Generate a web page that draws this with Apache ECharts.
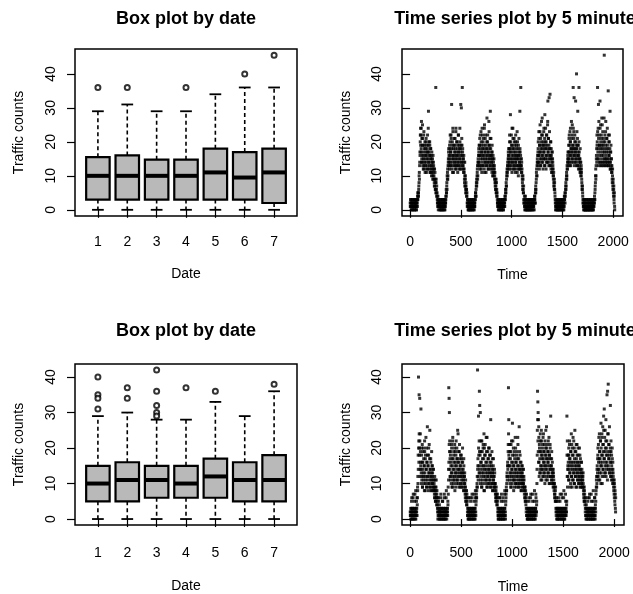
<!DOCTYPE html>
<html>
<head>
<meta charset="utf-8">
<title>Traffic counts</title>
<script src="https://cdn.jsdelivr.net/npm/echarts@6/dist/echarts.min.js"></script>
<style>
html, body { margin: 0; padding: 0; background: #fff; }
#container { width: 633px; height: 594px; }
</style>
</head>
<body>
<div id="container"></div>
<script>
var dom = document.getElementById("container");
var myChart = echarts.init(dom);

// ---- axis ticks ----
var dates = [1, 2, 3, 4, 5, 6, 7];
var countTicks = [0, 10, 20, 30, 40];
var timeTicks = [0, 500, 1000, 1500, 2000];

// ---- upper box plot ----
var topLow = [0, 0, 0, 0, 0, 0, 0];
var topQ1 = [3, 3, 3, 3, 3, 3, 2];
var topMedian = [10, 10, 10, 10, 11, 9.5, 11];
var topQ3 = [15.5, 16, 14.75, 14.75, 18, 17, 18];
var topHigh = [29, 31, 29, 29, 34, 36, 36];
var topOutDate = [1, 2, 4, 6, 7];
var topOutValue = [36, 36, 36, 40, 45.5];

// ---- lower box plot ----
var bottomLow = [0, 0, 0, 0, 0, 0, 0];
var bottomQ1 = [5, 5, 6, 6, 6, 5, 5];
var bottomMedian = [10, 11, 11, 10, 12, 11, 11];
var bottomQ3 = [15, 16, 15, 15, 17, 16, 18];
var bottomHigh = [29, 30, 28, 28, 33, 29, 36];
var bottomOutDate = [1, 1, 1, 1, 2, 2, 3, 3, 3, 3, 3, 4, 5, 7];
var bottomOutValue = [40, 35, 34, 31, 37, 34, 42, 36, 32, 30, 29, 37, 36, 38];

// ---- upper time series: per day, values at 5-min points 1,4,7,... (a) and 2,5,8,... (b) ----
var topDay1 = [2,1,3,2,0,1,2,3,1,0,2,1,1,3,2,0,1,2,1,3,0,2,1,2,4,3,5,
  4,6,8,11,13,17,20,24,
  22,18,26,15,19,14,21,17,12,16,23,13,19,15,11,18,14,20,16,12,17,13,22,15,19,29,14,17,12,20,16,11,18,13,15,10,17,12,14,9,16,11,13,
  10,8,12,7,9,6,36,8,5,7,4, 3,2,4,1,2,3,1];
var topDay2 = [1,2,0,3,1,2,1,0,2,3,1,2,0,1,3,2,1,2,0,1,2,
  3,4,5,7,6,9,12,10,14,17,13,
  15,12,18,20,14,17,22,13,31,16,19,11,24,15,18,13,21,16,14,19,12,17,23,15,13,20,16,18,11,14,22,17,13,19,15,24,12,18,31,16,30,14,19,36,17,13,15,11,16,
  12,9,14,7,10,6,8,5,6,4, 2,3,1,2,0];
var topDay3 = [2,1,0,3,2,1,2,0,1,3,2,1,0,2,1,3,1,2,0,2,1,3,4,
  5,4,7,9,8,11,13,10,15,14,18,16,
  14,19,12,22,16,13,20,17,11,24,15,18,13,21,16,19,12,25,14,17,22,15,11,18,13,27,16,20,14,17,12,19,23,15,18,13,29,16,21,14,17,12,19,15,10,16,13,11,15,12,
  9,11,7,8,6,9,5,6,4, 3,2];
var topDay4 = [1,2,3,0,2,1,2,1,3,0,2,1,2,0,1,3,2,1,0,2,1,3,2,4,3,
  5,6,8,7,10,12,11,14,13,17,15,
  16,12,20,14,18,28,13,17,22,15,11,19,14,24,16,12,18,21,13,15,17,11,20,14,16,19,12,23,15,13,18,10,16,21,14,12,29,17,13,36,15,11,14,
  12,9,7,10,6,5, 3,2,4,1,2,0,3,1,2,1,0];
var topDay5 = [2,0,1,3,2,1,0,2,3,1,2,0,1,2,3,1,0,2,1,2,3,1,2,0,3,4,2,
  5,7,6,9,12,10,14,16,13,
  18,14,21,16,12,19,23,15,17,13,20,26,14,18,22,16,12,19,15,24,17,13,28,20,15,18,12,22,16,19,14,25,32,17,21,13,33,18,15,34,16,20,13,18,11,15,17,12,14,10,
  9,11,7,6,8,5, 3,1,2,0];
var topDay6 = [1,2,0,3,1,2,2,0,1,3,2,1,0,2,1,3,2,0,1,2,1,3,0,2,1,2,4,3,5,
  4,6,8,7,10,9,13,12,15,17,14,
  19,15,22,17,13,20,24,16,18,14,21,17,25,15,19,36,18,23,33,16,20,14,17,32,19,15,40,18,13,21,29,16,19,14,36,17,12,15,18,11,14,10,12,
  9,7,6,5, 3,2,1,0,2,3,1,2,0];
var topDay7 = [1,0,2,1,3,0,1,2,0,1,2,3,1,0,2,1,0,3,1,2,0,1,2,1,0,3,2,1,2,4,3,
  6,8,12,10,15,18,22,
  20,36,17,24,31,15,22,19,14,32,18,25,13,21,16,27,19,14,23,17,20,13,18,45.5,15,22,14,19,26,13,17,21,15,24,14,18,35,13,20,16,22,14,29,17,12,19,15,11,
  13,9,10,7,8,5,6,3,4,1];

var topDay1b = [1,3,2,0,2,1,3,1,2,0,1,2,3,1,0,2,1,3,2,1,0,2,3,1,3,5,4,
  5,7,10,9,14,16,22,19,
  17,24,14,21,16,25,13,19,15,22,12,18,14,20,17,13,16,21,11,19,15,18,12,17,24,14,20,16,13,19,11,15,18,12,16,14,11,13,15,10,12,14,9,
  12,7,9,11,6,8,5,9,6,4,5, 2,1,3,0,2,1,2];
var topDay2b = [2,0,1,2,3,1,0,2,1,3,2,0,1,2,1,3,0,2,1,3,2,
  4,6,5,8,10,11,9,13,15,18,16,
  14,19,16,22,13,17,21,15,18,12,20,14,23,16,11,19,15,17,13,21,18,14,24,12,16,20,15,13,19,17,22,14,16,12,18,20,15,13,17,19,14,21,12,16,18,13,15,12,14,
  11,8,10,7,9,5,7,6,4,5, 1,2,3,0,1];
var topDay3b = [1,2,0,2,3,1,0,1,2,3,1,0,2,1,2,3,0,1,2,1,2,3,5,
  4,6,8,7,10,12,9,14,13,16,17,19,
  16,21,13,18,15,23,12,19,17,14,22,16,20,13,18,15,24,11,17,21,14,19,16,13,20,18,15,22,12,17,14,26,16,19,13,21,15,18,12,16,14,11,17,13,15,10,14,12,11,13,
  10,8,9,6,7,5,8,4,5, 2,1];
var topDay4b = [2,0,1,3,1,2,0,2,1,3,1,2,0,1,2,3,1,0,2,1,3,2,1,3,4,
  6,5,7,9,11,10,13,12,15,16,18,
  14,18,22,13,17,20,15,12,19,16,24,14,18,21,13,17,15,20,12,19,16,14,22,13,18,15,17,11,20,16,13,19,15,12,17,14,18,13,16,12,15,13,11,
  10,8,6,9,5,7, 2,3,1,0,2,4,1,3,0,2,1];
var topDay5b = [1,3,0,2,1,2,3,0,1,2,0,3,1,2,1,0,2,3,1,2,0,1,3,2,4,3,2,
  6,5,8,11,10,13,15,14,17,
  20,16,23,14,19,17,25,13,21,18,15,22,16,27,19,14,20,17,23,15,18,21,13,19,24,16,20,14,22,18,15,26,17,21,14,19,16,23,13,18,15,20,12,16,14,17,11,15,13,12,
  10,8,7,9,6,4, 2,0,3,1];
var topDay6b = [2,1,3,0,2,1,0,3,2,1,0,2,1,3,0,1,2,3,1,0,2,1,3,2,0,1,3,4,2,
  5,7,6,9,11,10,12,14,16,13,15,
  17,21,14,19,23,16,20,13,18,26,15,22,17,19,14,24,16,21,18,13,22,15,17,20,14,18,16,23,13,19,15,17,12,16,20,13,15,11,14,12,10,13,11,
  8,6,7,4, 2,1,3,0,1,2,0,3,1];
var topDay7b = [0,2,1,3,1,0,2,1,3,0,1,2,0,2,1,3,1,0,2,1,3,2,0,1,2,0,1,3,2,3,5,
  7,10,9,13,16,14,19,
  15,23,18,13,21,26,16,19,14,24,17,20,13,22,15,18,25,14,19,16,21,13,27,17,15,20,14,23,16,18,13,21,15,19,14,17,22,13,16,20,15,18,12,14,17,13,15,12,
  11,8,12,6,9,4,7,2,5,0];

// ---- lower time series ----
var bottomDay1 = [2,1,3,0,2,6,1,3,2,0,7,1,2,3,5,1,0,2,8,3,1,2,6,4,
  9,12,18,40,22,35,20,34,14,24,16,
  31,13,20,11,16,9,14,19,12,17,10,15,22,13,8,18,11,14,20,9,16,26,12,15,10,18,13,21,9,25,14,11,17,8,12,19,10,15,13,9,11,14,8,
  10,7,12,6,9,5,8,11,6,7,4, 3,6,1,2,5,0,2];
var bottomDay2 = [1,3,0,2,7,1,2,3,0,1,5,2,1,3,0,2,6,1,2,0,3,1,8,2,1,3,2,5,
  9,14,37,34,30,22,17,
  12,19,15,10,21,13,17,9,23,14,11,18,16,12,20,8,15,19,13,22,10,17,14,11,25,16,12,19,9,14,21,13,17,10,15,12,18,9,16,13,20,11,14,8,17,12,10,13,
  9,6,11,7,5,8,4,6, 2,1,3,0,2];
var bottomDay3 = [2,0,3,1,6,2,1,3,0,2,7,1,3,2,0,1,5,2,3,1,0,8,2,
  4,7,6,9,12,42,15,11,29,18,13,36,
  32,14,30,11,19,16,9,22,13,17,10,20,15,12,24,8,18,14,21,11,16,13,19,9,23,15,12,17,10,20,14,11,18,13,16,9,28,12,15,10,19,13,8,14,11,17,9,12,10,13,
  8,10,6,7,9,5,6,4,7, 2,1];
var bottomDay4 = [1,3,0,2,1,6,2,0,3,1,7,2,1,0,3,2,5,1,2,0,3,8,1,2,4,
  6,9,8,12,11,15,14,19,37,28,
  17,12,21,10,15,19,13,9,22,14,11,27,16,12,20,8,15,18,11,13,23,10,16,14,9,19,12,17,10,21,13,15,11,26,9,14,18,12,10,16,8,13,11,15,9,12,10,14,8,11,
  7,9,6,5,8,4, 2,7,1,3,0];
var bottomDay5 = [2,0,1,3,6,2,1,0,3,2,7,1,2,0,3,1,5,2,0,1,3,2,8,1,0,2,3,6,2,4,
  10,18,36,33,30,
  28,26,16,21,13,19,24,15,11,18,22,14,17,20,12,23,16,13,19,15,21,10,18,14,25,17,12,20,15,11,19,16,22,13,17,10,18,14,21,12,29,15,11,17,13,10,14,12,9,13,11,
  8,10,6,7,5,9, 3,1,6,2];
var bottomDay6 = [3,1,0,2,5,1,3,2,0,1,7,2,3,1,0,2,6,1,2,3,0,1,8,2,1,0,3,2,5,1,2,4,
  29,12,9,15,18,
  14,20,11,17,22,13,16,10,19,15,12,21,9,18,14,23,11,16,13,20,10,25,15,12,19,14,17,9,21,13,16,11,18,10,15,12,20,14,9,17,11,13,16,10,14,12,9,11,13,
  8,6,9,5,7,4, 2,6,1,3];
var bottomDay7 = [2,0,1,3,2,6,1,0,2,3,7,1,2,0,3,1,5,2,1,0,3,2,8,1,2,0,3,6,1,4,2,
  7,9,12,10,15,13,
  18,14,21,11,17,24,13,19,16,22,10,20,15,23,12,18,26,14,21,29,17,31,13,19,25,16,22,12,20,15,35,18,36,24,38,14,21,17,26,13,19,32,16,22,12,18,14,20,11,16,13,
  10,8,11,6,9,4,7,2];

var bottomDay1b = [1,2,0,3,5,1,2,0,3,6,1,2,0,1,3,7,2,1,0,2,5,3,1,6,
  8,10,14,20,16,24,18,22,12,19,15,
  14,10,18,12,21,9,16,13,20,11,15,8,19,12,17,10,23,14,9,16,12,18,11,15,8,20,13,10,17,12,14,9,16,11,13,8,15,10,12,14,9,11,8,
  9,6,8,11,5,7,9,6,4,8,5, 2,0,3,6,1,2,4];
var bottomDay2b = [2,0,1,3,6,2,1,0,3,5,1,2,0,3,1,7,2,0,1,3,2,6,1,0,2,3,1,4,
  7,11,16,21,19,14,12,
  18,11,16,13,20,9,15,22,12,17,10,19,14,11,21,13,16,9,18,12,15,20,11,17,13,24,10,16,14,19,12,15,9,18,11,13,17,10,14,12,16,9,13,11,15,8,12,10,
  7,9,5,8,6,4,7,5, 1,3,0,2,6];
var bottomDay3b = [1,3,0,2,1,5,2,0,3,1,6,2,0,1,3,2,7,1,0,2,3,6,1,
  5,6,8,10,9,14,17,12,20,15,22,19,
  13,18,10,16,22,12,15,9,19,14,11,21,13,17,8,20,15,12,18,10,14,23,11,16,13,9,19,12,17,14,10,20,13,15,11,18,9,16,12,14,10,17,13,8,15,11,12,9,14,10,
  9,7,5,8,6,7,4,6,5, 3,0];
var bottomDay4b = [2,0,1,3,6,1,2,0,3,5,1,2,0,3,1,6,2,0,1,2,7,3,1,0,5,
  7,8,10,13,12,16,15,21,24,18,
  15,11,19,13,17,9,21,12,16,14,10,18,22,13,15,11,19,9,17,12,14,20,10,16,13,18,11,15,23,12,9,17,14,10,19,13,16,11,14,8,12,15,10,13,9,14,11,10,12,9,
  8,6,9,5,7,6, 3,1,5,0,2];
var bottomDay5b = [1,3,0,2,5,1,2,3,0,6,1,2,0,3,1,7,2,1,0,3,2,5,1,0,2,3,7,1,2,5,
  14,25,28,22,19,
  16,23,12,20,17,14,22,13,19,25,15,11,18,21,14,17,24,12,19,16,13,22,15,20,11,18,26,14,17,21,13,16,19,12,23,15,18,10,20,14,17,12,15,19,11,16,13,10,14,12,9,
  10,7,9,6,8,5, 2,5,0,3];
var bottomDay6b = [2,0,3,1,6,2,0,1,3,5,2,1,0,3,2,7,1,0,2,3,1,6,2,0,1,3,2,7,1,3,2,5,
  18,22,14,12,16,
  11,18,15,21,13,17,9,19,14,24,12,16,20,11,15,18,13,22,10,17,14,19,12,16,9,21,15,13,18,11,14,20,12,16,10,15,13,18,11,14,9,12,16,10,13,11,9,12,10,
  7,9,5,8,6,5, 3,1,0,4];
var bottomDay7b = [1,3,0,2,5,1,2,0,3,6,1,2,3,0,1,7,2,0,3,1,2,5,0,1,3,2,6,1,0,3,5,
  8,11,9,14,12,17,
  20,12,16,23,14,19,11,17,22,15,27,13,18,24,10,16,21,14,19,25,12,17,23,15,20,13,28,18,14,22,16,11,19,24,15,17,21,13,18,14,20,12,16,19,11,15,13,17,10,14,12,
  9,11,7,10,5,8,3,6];

var topDays = [topDay1, topDay2, topDay3, topDay4, topDay5, topDay6, topDay7];
var topDaysB = [topDay1b, topDay2b, topDay3b, topDay4b, topDay5b, topDay6b, topDay7b];
var bottomDays = [bottomDay1, bottomDay2, bottomDay3, bottomDay4, bottomDay5, bottomDay6, bottomDay7];
var bottomDaysB = [bottomDay1b, bottomDay2b, bottomDay3b, bottomDay4b, bottomDay5b, bottomDay6b, bottomDay7b];

var FONT = 'Liberation Sans';
var POINTS_PER_DAY = 288;  // 5-minute intervals
var STEP = 3;

function toPoints(days, first) {
    var out = [];
    for (var d = 0; d < days.length; d++) {
        for (var s = 0; s < days[d].length; s++) {
            out.push([d * POINTS_PER_DAY + s * STEP + first, days[d][s]]);
        }
    }
    return out;
}

function toBoxes(low, q1, med, q3, high) {
    return dates.map(function (d, i) {
        return [d, low[i], q1[i], med[i], q3[i], high[i]];
    });
}

function toPairs(xs, ys) {
    return xs.map(function (x, i) { return [x, ys[i]]; });
}

// R style box: dashed whiskers, solid staples, grey box, heavy median
function renderBox(params, api) {
    var x = api.value(0);
    var lo = api.coord([x, api.value(1)]);
    var q1 = api.coord([x, api.value(2)]);
    var md = api.coord([x, api.value(3)]);
    var q3 = api.coord([x, api.value(4)]);
    var hi = api.coord([x, api.value(5)]);
    var w = api.size([0.8, 0])[0];
    var cx = lo[0];
    var dash = { stroke: '#000', lineWidth: 1.6, lineDash: [4, 3] };
    var solid = { stroke: '#000', lineWidth: 1.8 };
    return {
        type: 'group',
        children: [
            { type: 'line', shape: { x1: cx, y1: q3[1], x2: cx, y2: hi[1] }, style: dash },
            { type: 'line', shape: { x1: cx, y1: q1[1], x2: cx, y2: lo[1] }, style: dash },
            { type: 'line', shape: { x1: cx - w / 4, y1: hi[1], x2: cx + w / 4, y2: hi[1] }, style: solid },
            { type: 'line', shape: { x1: cx - w / 4, y1: lo[1], x2: cx + w / 4, y2: lo[1] }, style: solid },
            { type: 'rect', shape: { x: cx - w / 2, y: q3[1], width: w, height: q1[1] - q3[1] },
              style: { fill: '#b9b9b9', stroke: '#000', lineWidth: 2.2 } },
            { type: 'line', shape: { x1: cx - w / 2, y1: md[1], x2: cx + w / 2, y2: md[1] },
              style: { stroke: '#000', lineWidth: 4 } }
        ]
    };
}

function gridAt(left, top, width, height) {
    return {
        left: left, top: top, width: width, height: height,
        show: true, borderColor: '#000', borderWidth: 1.5,
        containLabel: false, outerBoundsMode: 'none'
    };
}

function xAxisAt(gi, min, max, ticks, name, labelMargin, nameGap) {
    return {
        type: 'value', gridIndex: gi, min: min, max: max,
        name: name, nameLocation: 'middle', nameGap: nameGap,
        nameTextStyle: { color: '#000', fontSize: 14, fontFamily: FONT },
        axisLine: { show: false },
        axisTick: { show: true, length: 8, customValues: ticks, lineStyle: { color: '#000', width: 1.2 } },
        axisLabel: {
            margin: labelMargin, customValues: ticks, color: '#000', fontSize: 14, fontFamily: FONT,
            formatter: function (v) { return String(v); }
        },
        splitLine: { show: false }
    };
}

function yAxisAt(gi, min, max, labelMargin) {
    return {
        type: 'value', gridIndex: gi, min: min, max: max,
        name: 'Traffic counts', nameLocation: 'middle', nameGap: 49,
        nameTextStyle: { color: '#000', fontSize: 14, fontFamily: FONT },
        axisLine: { show: false },
        axisTick: { show: true, length: 8, customValues: countTicks, lineStyle: { color: '#000', width: 1.2 } },
        axisLabel: { rotate: 90, margin: labelMargin, customValues: countTicks, color: '#000', fontSize: 14, fontFamily: FONT },
        splitLine: { show: false }
    };
}

function titleAt(text, x, y) {
    return {
        type: 'text', x: x, y: y,
        style: { text: text, fill: '#000', font: 'bold 18px "Liberation Sans"', textAlign: 'center', textVerticalAlign: 'middle' }
    };
}

var option = {
    animation: false,
    backgroundColor: '#fff',
    graphic: [
        titleAt('Box plot by date', 186, 19),
        titleAt('Time series plot by 5 minute', 515, 19),
        titleAt('Box plot by date', 186, 331),
        titleAt('Time series plot by 5 minute', 515, 331)
    ],
    grid: [
        gridAt(75, 49, 222, 167),
        gridAt(402, 49, 221, 167),
        gridAt(75, 364, 222, 161),
        gridAt(402, 364, 222, 161)
    ],
    xAxis: [
        xAxisAt(0, 0.22, 7.78, dates, 'Date', 19, 51),
        xAxisAt(1, -79.6, 2096.6, timeTicks, 'Time', 19, 52),
        xAxisAt(2, 0.22, 7.78, dates, 'Date', 21, 54),
        xAxisAt(3, -79.6, 2096.6, timeTicks, 'Time', 21, 55)
    ],
    yAxis: [
        yAxisAt(0, -1.82, 47.32, 17),
        yAxisAt(1, -1.82, 47.32, 18),
        yAxisAt(2, -1.68, 43.68, 17),
        yAxisAt(3, -1.68, 43.68, 18)
    ],
    series: [
        {
            type: 'custom', xAxisIndex: 0, yAxisIndex: 0, silent: true,
            renderItem: renderBox, encode: { x: 0, y: [1, 2, 3, 4, 5] },
            data: toBoxes(topLow, topQ1, topMedian, topQ3, topHigh)
        },
        {
            type: 'scatter', xAxisIndex: 0, yAxisIndex: 0, silent: true,
            symbol: 'emptyCircle', symbolSize: 5,
            itemStyle: { color: '#000', borderColor: '#000', borderWidth: 1.3 },
            data: toPairs(topOutDate, topOutValue)
        },
        {
            type: 'scatter', xAxisIndex: 1, yAxisIndex: 1, silent: true,
            symbol: 'rect', symbolSize: 3, itemStyle: { color: '#000' },
            data: toPoints(topDays, 1).concat(toPoints(topDaysB, 2))
        },
        {
            type: 'custom', xAxisIndex: 2, yAxisIndex: 2, silent: true,
            renderItem: renderBox, encode: { x: 0, y: [1, 2, 3, 4, 5] },
            data: toBoxes(bottomLow, bottomQ1, bottomMedian, bottomQ3, bottomHigh)
        },
        {
            type: 'scatter', xAxisIndex: 2, yAxisIndex: 2, silent: true,
            symbol: 'emptyCircle', symbolSize: 5,
            itemStyle: { color: '#000', borderColor: '#000', borderWidth: 1.3 },
            data: toPairs(bottomOutDate, bottomOutValue)
        },
        {
            type: 'scatter', xAxisIndex: 3, yAxisIndex: 3, silent: true,
            symbol: 'rect', symbolSize: 3, itemStyle: { color: '#000' },
            data: toPoints(bottomDays, 1).concat(toPoints(bottomDaysB, 2))
        }
    ]
};

myChart.setOption(option);
</script>
</body>
</html>
